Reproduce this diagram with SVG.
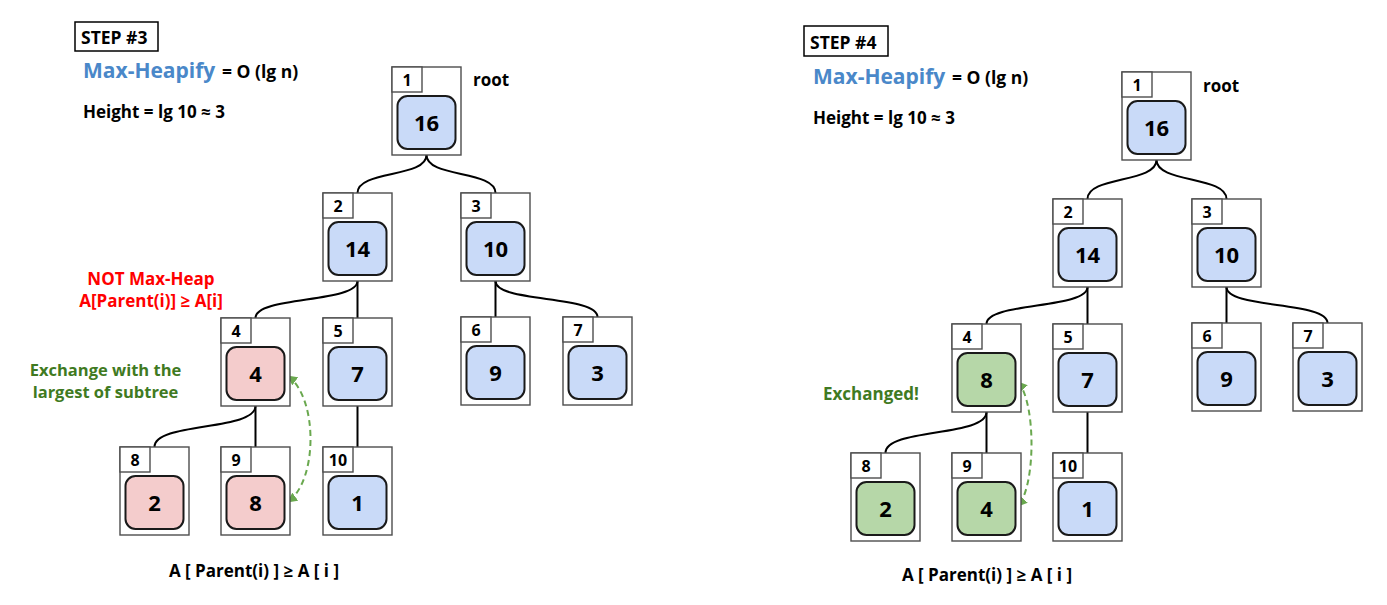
<svg xmlns="http://www.w3.org/2000/svg" width="1387" height="605" viewBox="0 0 1387 605">
<style>
text{font-family:"Open Sans","Liberation Sans",sans-serif;font-weight:700}
.outer{fill:#fff;stroke:#4d4d4d;stroke-width:1.4}
.idx{fill:#fff;stroke:#4d4d4d;stroke-width:1.4}
.inner{stroke:#1a1a1a;stroke-width:2}
.blue{fill:#c9daf8}
.red{fill:#f4cccc}
.green{fill:#b6d7a8}
.it{font-size:16px;text-anchor:middle;fill:#000}
.vt{font-size:22px;text-anchor:middle;fill:#000}
.edge{fill:none;stroke:#000;stroke-width:2}
.swap{fill:none;stroke:#6aa84f;stroke-width:2;stroke-dasharray:6 4}
.t17{font-size:17px;fill:#000}
.step{font-size:17.5px;fill:#000}
.mh{font-size:21px;fill:#4a88c9}
.eq{font-size:17.5px;fill:#000}
.redt{font-size:17px;fill:#ff0000;text-anchor:middle}
.grn{font-size:17px;fill:#3f7a22}
.grn2{font-size:16.5px;fill:#3f7a22;text-anchor:middle}
</style>
<defs>
<marker id="ah" viewBox="0 0 10 10" refX="9" refY="5" markerWidth="10" markerHeight="10" markerUnits="userSpaceOnUse" orient="auto-start-reverse">
<path d="M0,0 L10,5 L0,10 z" fill="#6aa84f"/>
</marker>
</defs>

<!-- LEFT header -->
<g id="L-header">
<rect x="75" y="22" width="83" height="29" fill="#fff" stroke="#000" stroke-width="1.5"/>
<text x="81" y="44" class="step">STEP #3</text>
<text x="83" y="78" class="mh">Max-Heapify</text>
<text x="222" y="78" class="eq">= O (lg n)</text>
<text x="83" y="118" class="t17">Height = lg 10 ≈ 3</text>
<text x="473" y="86" class="t17">root</text>
</g>

<g id="L-edges">
<path class="edge" d="M426.5 155 C426.5 178 357.5 170 357.5 193"/>
<path class="edge" d="M426.5 155 C426.5 178 495.5 170 495.5 193"/>
<path class="edge" d="M357.5 281 C357.5 303 255.5 296 255.5 318"/>
<path class="edge" d="M357.5 281 L357.5 318"/>
<path class="edge" d="M495.5 281 L495.5 317"/>
<path class="edge" d="M495.5 281 C495.5 303 597.5 295 597.5 317"/>
<path class="edge" d="M255.5 406 C255.5 431 154.5 422 154.5 447"/>
<path class="edge" d="M255.5 406 L255.5 447"/>
<path class="edge" d="M357.5 406 L357.5 447"/>
<path class="swap" d="M288 376 C318 398 318 480 288 502" marker-start="url(#ah)" marker-end="url(#ah)"/>
</g>

<g id="L-n1" transform="translate(392,67)"><rect class="outer" width="69" height="88"/><rect class="idx" width="30" height="25"/><text class="it" x="15" y="18.5">1</text><rect class="inner blue" x="5.5" y="29" width="58" height="53" rx="10"/><text class="vt" x="34.5" y="63.5">16</text></g>
<g id="L-n2" transform="translate(323,193)"><rect class="outer" width="69" height="88"/><rect class="idx" width="30" height="25"/><text class="it" x="15" y="18.5">2</text><rect class="inner blue" x="5.5" y="29" width="58" height="53" rx="10"/><text class="vt" x="34.5" y="63.5">14</text></g>
<g id="L-n3" transform="translate(461,193)"><rect class="outer" width="69" height="88"/><rect class="idx" width="30" height="25"/><text class="it" x="15" y="18.5">3</text><rect class="inner blue" x="5.5" y="29" width="58" height="53" rx="10"/><text class="vt" x="34.5" y="63.5">10</text></g>
<g id="L-n4" transform="translate(221,318)"><rect class="outer" width="69" height="88"/><rect class="idx" width="30" height="25"/><text class="it" x="15" y="18.5">4</text><rect class="inner red" x="5.5" y="29" width="58" height="53" rx="10"/><text class="vt" x="34.5" y="63.5">4</text></g>
<g id="L-n5" transform="translate(323,318)"><rect class="outer" width="69" height="88"/><rect class="idx" width="30" height="25"/><text class="it" x="15" y="18.5">5</text><rect class="inner blue" x="5.5" y="29" width="58" height="53" rx="10"/><text class="vt" x="34.5" y="63.5">7</text></g>
<g id="L-n6" transform="translate(461,317)"><rect class="outer" width="69" height="88"/><rect class="idx" width="30" height="25"/><text class="it" x="15" y="18.5">6</text><rect class="inner blue" x="5.5" y="29" width="58" height="53" rx="10"/><text class="vt" x="34.5" y="63.5">9</text></g>
<g id="L-n7" transform="translate(563,317)"><rect class="outer" width="69" height="88"/><rect class="idx" width="30" height="25"/><text class="it" x="15" y="18.5">7</text><rect class="inner blue" x="5.5" y="29" width="58" height="53" rx="10"/><text class="vt" x="34.5" y="63.5">3</text></g>
<g id="L-n8" transform="translate(120,447)"><rect class="outer" width="69" height="88"/><rect class="idx" width="30" height="25"/><text class="it" x="15" y="18.5">8</text><rect class="inner red" x="5.5" y="29" width="58" height="53" rx="10"/><text class="vt" x="34.5" y="63.5">2</text></g>
<g id="L-n9" transform="translate(221,447)"><rect class="outer" width="69" height="88"/><rect class="idx" width="30" height="25"/><text class="it" x="15" y="18.5">9</text><rect class="inner red" x="5.5" y="29" width="58" height="53" rx="10"/><text class="vt" x="34.5" y="63.5">8</text></g>
<g id="L-n10" transform="translate(323,447)"><rect class="outer" width="69" height="88"/><rect class="idx" width="30" height="25"/><text class="it" x="15" y="18.5">10</text><rect class="inner blue" x="5.5" y="29" width="58" height="53" rx="10"/><text class="vt" x="34.5" y="63.5">1</text></g>

<g id="L-notes">
<text x="151" y="285" class="redt">NOT Max-Heap</text>
<text x="151" y="307" class="redt">A[Parent(i)] ≥ A[i]</text>
<text x="105.5" y="376" class="grn2">Exchange with the</text>
<text x="105.5" y="397.5" class="grn2">largest of subtree</text>
<text x="254" y="577" class="t17" text-anchor="middle">A [ Parent(i) ] ≥ A [ i ]</text>
</g>

<!-- RIGHT header -->
<g id="R-header">
<rect x="804" y="26" width="84" height="30" fill="#fff" stroke="#000" stroke-width="1.5"/>
<text x="810" y="49" class="step">STEP #4</text>
<text x="813" y="84" class="mh">Max-Heapify</text>
<text x="952" y="84" class="eq">= O (lg n)</text>
<text x="813" y="124" class="t17">Height = lg 10 ≈ 3</text>
<text x="1203" y="92" class="t17">root</text>
</g>

<g id="R-edges">
<path class="edge" d="M1156.5 160 C1156.5 183 1087.5 176 1087.5 199"/>
<path class="edge" d="M1156.5 160 C1156.5 183 1226.5 176 1226.5 199"/>
<path class="edge" d="M1087.5 287 C1087.5 309 986.5 302 986.5 324"/>
<path class="edge" d="M1087.5 287 L1087.5 324"/>
<path class="edge" d="M1226.5 287 L1226.5 323"/>
<path class="edge" d="M1226.5 287 C1226.5 309 1327.5 301 1327.5 323"/>
<path class="edge" d="M986.5 412 C986.5 437 885.5 428 885.5 453"/>
<path class="edge" d="M986.5 412 L986.5 453"/>
<path class="edge" d="M1087.5 412 L1087.5 453"/>
<path class="swap" d="M1018 382 C1036 402 1036 486 1018 506" marker-start="url(#ah)" marker-end="url(#ah)"/>
</g>

<g id="R-n1" transform="translate(1122,72)"><rect class="outer" width="69" height="88"/><rect class="idx" width="30" height="25"/><text class="it" x="15" y="18.5">1</text><rect class="inner blue" x="5.5" y="29" width="58" height="53" rx="10"/><text class="vt" x="34.5" y="63.5">16</text></g>
<g id="R-n2" transform="translate(1053,199)"><rect class="outer" width="69" height="88"/><rect class="idx" width="30" height="25"/><text class="it" x="15" y="18.5">2</text><rect class="inner blue" x="5.5" y="29" width="58" height="53" rx="10"/><text class="vt" x="34.5" y="63.5">14</text></g>
<g id="R-n3" transform="translate(1192,199)"><rect class="outer" width="69" height="88"/><rect class="idx" width="30" height="25"/><text class="it" x="15" y="18.5">3</text><rect class="inner blue" x="5.5" y="29" width="58" height="53" rx="10"/><text class="vt" x="34.5" y="63.5">10</text></g>
<g id="R-n4" transform="translate(952,324)"><rect class="outer" width="69" height="88"/><rect class="idx" width="30" height="25"/><text class="it" x="15" y="18.5">4</text><rect class="inner green" x="5.5" y="29" width="58" height="53" rx="10"/><text class="vt" x="34.5" y="63.5">8</text></g>
<g id="R-n5" transform="translate(1053,324)"><rect class="outer" width="69" height="88"/><rect class="idx" width="30" height="25"/><text class="it" x="15" y="18.5">5</text><rect class="inner blue" x="5.5" y="29" width="58" height="53" rx="10"/><text class="vt" x="34.5" y="63.5">7</text></g>
<g id="R-n6" transform="translate(1192,323)"><rect class="outer" width="69" height="88"/><rect class="idx" width="30" height="25"/><text class="it" x="15" y="18.5">6</text><rect class="inner blue" x="5.5" y="29" width="58" height="53" rx="10"/><text class="vt" x="34.5" y="63.5">9</text></g>
<g id="R-n7" transform="translate(1293,323)"><rect class="outer" width="69" height="88"/><rect class="idx" width="30" height="25"/><text class="it" x="15" y="18.5">7</text><rect class="inner blue" x="5.5" y="29" width="58" height="53" rx="10"/><text class="vt" x="34.5" y="63.5">3</text></g>
<g id="R-n8" transform="translate(851,453)"><rect class="outer" width="69" height="88"/><rect class="idx" width="30" height="25"/><text class="it" x="15" y="18.5">8</text><rect class="inner green" x="5.5" y="29" width="58" height="53" rx="10"/><text class="vt" x="34.5" y="63.5">2</text></g>
<g id="R-n9" transform="translate(952,453)"><rect class="outer" width="69" height="88"/><rect class="idx" width="30" height="25"/><text class="it" x="15" y="18.5">9</text><rect class="inner green" x="5.5" y="29" width="58" height="53" rx="10"/><text class="vt" x="34.5" y="63.5">4</text></g>
<g id="R-n10" transform="translate(1053,453)"><rect class="outer" width="69" height="88"/><rect class="idx" width="30" height="25"/><text class="it" x="15" y="18.5">10</text><rect class="inner blue" x="5.5" y="29" width="58" height="53" rx="10"/><text class="vt" x="34.5" y="63.5">1</text></g>

<g id="R-notes">
<text x="823" y="400" class="grn">Exchanged!</text>
<text x="987" y="581" class="t17" text-anchor="middle">A [ Parent(i) ] ≥ A [ i ]</text>
</g>
</svg>
